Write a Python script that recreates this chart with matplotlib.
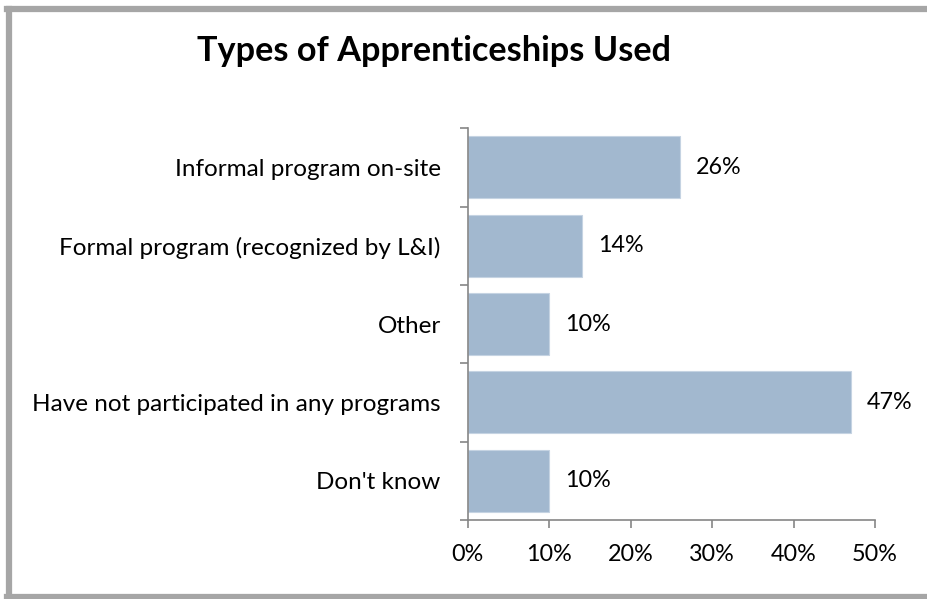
import numpy as np
import matplotlib.pyplot as plt
from matplotlib.lines import Line2D

categories = ["Informal program on-site", "Formal program (recognized by L&I)", "Other",
              "Have not participated in any programs", "Don't know"]
values = [0.26, 0.14, 0.10, 0.47, 0.10]
xticks = [0.0, 0.1, 0.2, 0.3, 0.4, 0.5]

plt.rcParams['font.family'] = ['Lato', 'DejaVu Sans']

fig = plt.figure(figsize=(9.28, 5.99), dpi=100)
ax = fig.add_axes([0.504, 0.132, 0.439, 0.654])

y = np.arange(len(categories))
ax.barh(y, values, height=0.79, color="#A2B8CF", edgecolor="#C5D3E2", linewidth=0.8)
for yi, v in zip(y, values):
    ax.text(v + 0.020, yi, f"{v*100:.0f}%", va="center", ha="left", fontsize=16.8)

ax.set_ylim(len(categories) - 0.5, -0.5)
ax.set_xlim(0, 0.5)
ax.set_yticks(y)
ax.set_yticklabels(categories, fontsize=17.5)
ax.set_yticks(np.arange(len(categories) + 1) - 0.5, minor=True)
ax.tick_params(axis="y", which="major", length=0, pad=19.5)
ax.tick_params(axis="y", which="minor", length=6, color="#868686", width=1.2)
ax.set_xticks(xticks)
ax.set_xticklabels([f"{t*100:.0f}%" for t in xticks], fontsize=16.8)
ax.tick_params(axis="x", length=6, color="#868686", width=1.2, pad=11)

for s in ["top", "right"]:
    ax.spines[s].set_visible(False)
for s in ["left", "bottom"]:
    ax.spines[s].set_color("#868686")
    ax.spines[s].set_linewidth(1.2)

fig.text(0.468, 0.915, "Types of Apprenticeships Used", ha="center", va="center",
         fontsize=24.7, fontweight="bold")

# chart area border (left, top, bottom)
bc = "#A6A6A6"
fig.add_artist(Line2D([0.0097, 0.0097], [0.0, 0.985], color=bc, linewidth=4.5, transform=fig.transFigure))
fig.add_artist(Line2D([0.0075, 1.0], [0.985, 0.985], color=bc, linewidth=4.5, transform=fig.transFigure))
fig.add_artist(Line2D([0.0075, 1.0], [0.0035, 0.0035], color=bc, linewidth=4.5, transform=fig.transFigure))

fig.savefig("out.png", dpi=100)
